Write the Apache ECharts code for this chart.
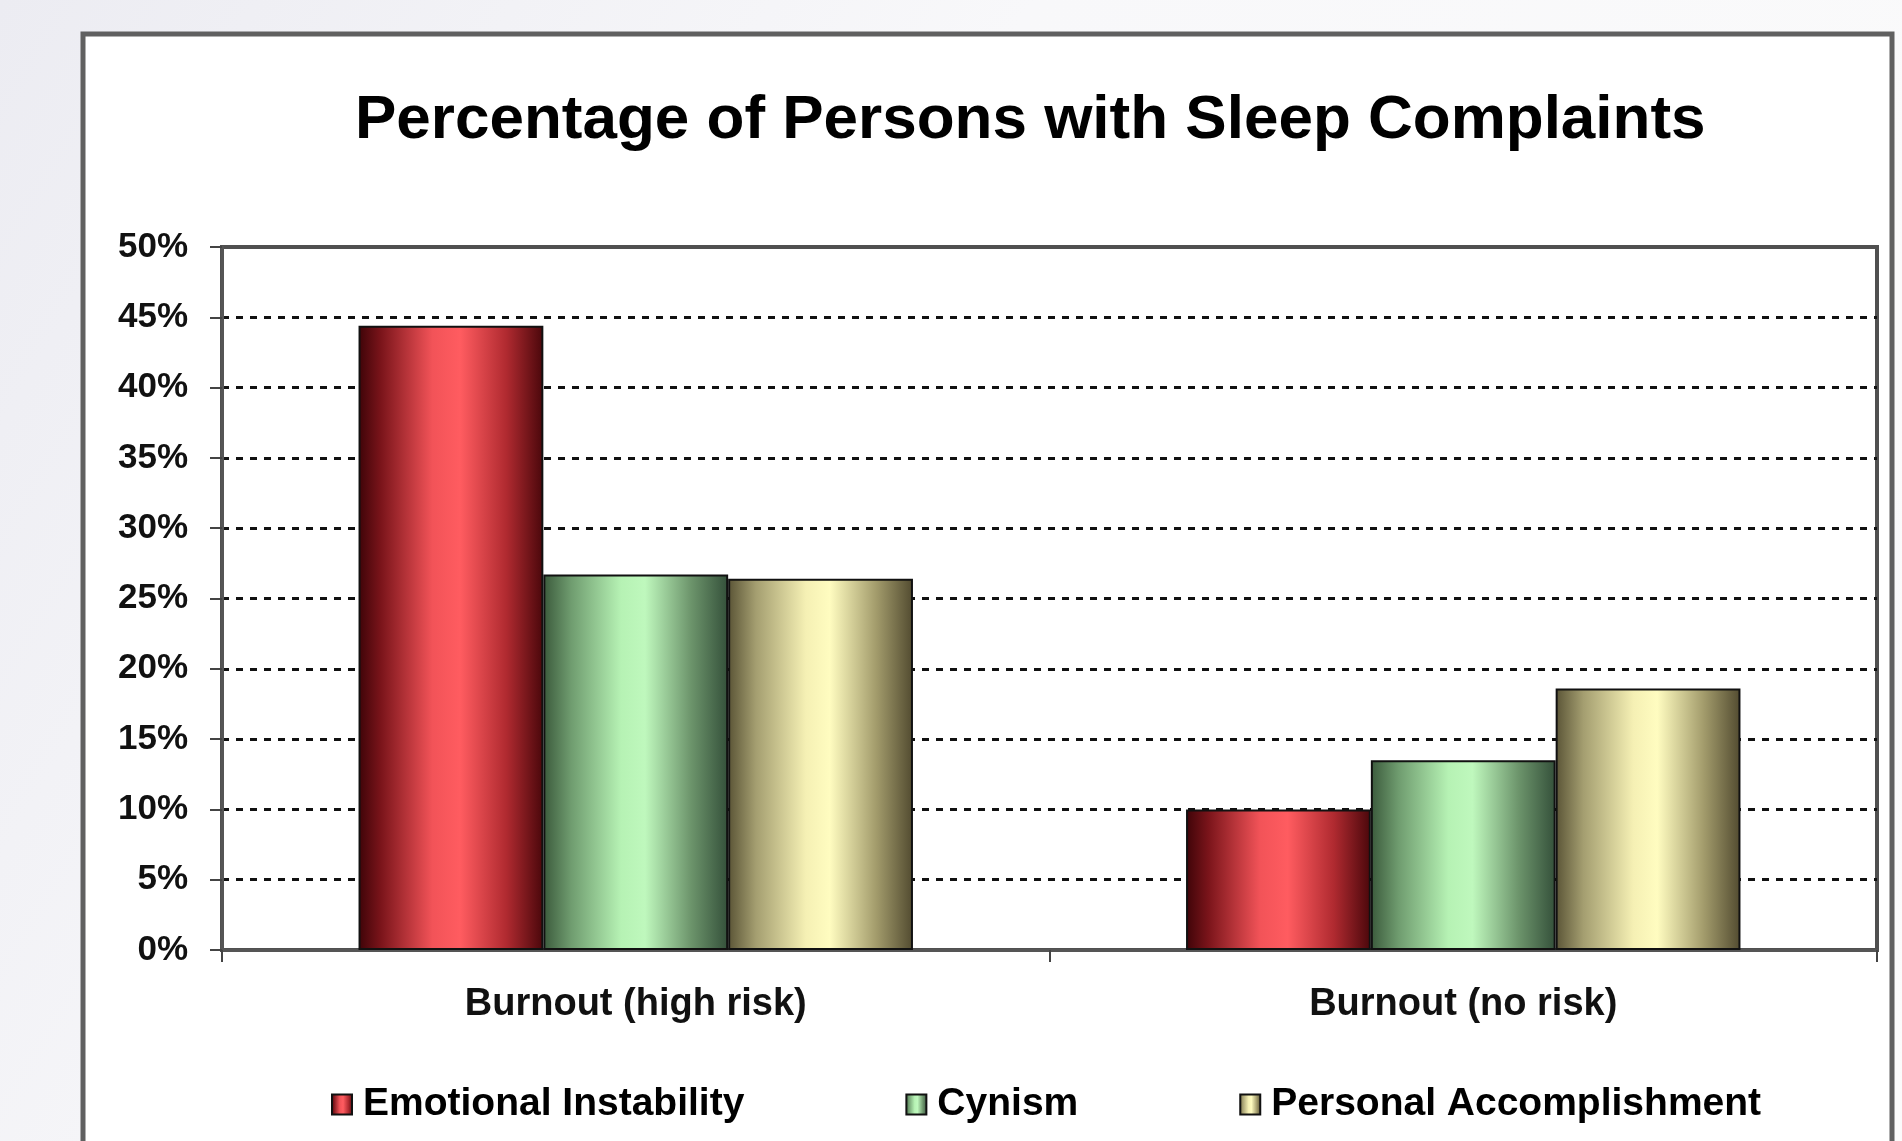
<!DOCTYPE html>
<html><head><meta charset="utf-8">
<script src="https://cdn.jsdelivr.net/npm/echarts@6/dist/echarts.min.js"></script>
<style>html,body{margin:0;padding:0;background:#f4f4f6}#c{width:1902px;height:1141px}</style>
</head><body><div id="c"></div>
<script>
const categories = ['Burnout (high risk)', 'Burnout (no risk)'];
const seriesNames = ['Emotional Instability', 'Cynism', 'Personal Accomplishment'];
const emotionalInstability = [44.4, 10.0];
const cynism = [26.7, 13.5];
const personalAccomplishment = [26.4, 18.6];
const titleText = 'Percentage of Persons with Sleep Complaints';

const FONT = '"Liberation Sans", Arial, sans-serif';
function grad(stops) {
  return { type: 'linear', x: 0, y: 0, x2: 1, y2: 0,
    colorStops: stops.map(s => ({ offset: s[0], color: s[1] })) };
}
const redFill = grad([[0,'#3e0408'],[0.12,'#7a141a'],[0.4,'#f25358'],[0.55,'#ff5c60'],[0.8,'#b02a30'],[1,'#4a070b']]);
const greenFill = grad([[0,'#3b5a3c'],[0.15,'#6f9c6f'],[0.42,'#b6f2b4'],[0.55,'#bff8bd'],[0.8,'#6c946b'],[1,'#34503a']]);
const yellowFill = grad([[0,'#5a5436'],[0.15,'#a49e70'],[0.42,'#f5f0b4'],[0.55,'#fffcc0'],[0.8,'#a39c6c'],[1,'#524b30']]);

const mk = (name, data, fill) => ({
  name, type: 'bar', data,
  barGap: '0%', barCategoryGap: '33%',
  itemStyle: { color: fill, borderColor: '#111', borderWidth: 2 }
});

const chart = echarts.init(document.getElementById('c'), null, { renderer: 'canvas' });
chart.setOption({
  animation: false,
  backgroundColor: { type: 'linear', x: 0, y: 0, x2: 1, y2: 1,
    colorStops: [{ offset: 0, color: '#ececf2' }, { offset: 0.4, color: '#f8f8fa' }, { offset: 1, color: '#fbfbfb' }] },
  graphic: [{
    type: 'rect', z: -10, silent: true,
    shape: { x: 83, y: 34, width: 1809, height: 1200 },
    style: { fill: '#ffffff', stroke: '#606060', lineWidth: 5 }
  }],
  title: {
    text: titleText, left: 350, top: 85,
    textStyle: { fontFamily: FONT, fontWeight: 'bold', fontSize: 62, color: '#000' }
  },
  legend: {
    data: seriesNames, left: 326, top: 1080, orient: 'horizontal', icon: 'rect',
    itemWidth: 20, itemHeight: 20, itemGap: 161,
    textStyle: { fontFamily: FONT, fontWeight: 'bold', fontSize: 39, color: '#000', padding: [0, 0, 0, 6] },
    itemStyle: { borderColor: '#111', borderWidth: 2 }
  },
  grid: {
    left: 222, top: 247, right: 25, bottom: 191, containLabel: false,
    show: true, borderColor: '#505050', borderWidth: 4, backgroundColor: 'transparent'
  },
  xAxis: {
    type: 'category', data: categories,
    axisLine: { show: true, lineStyle: { color: '#555', width: 3 } },
    axisTick: { show: true, length: 12, lineStyle: { color: '#444', width: 2 } },
    axisLabel: { margin: 36, fontFamily: FONT, fontWeight: 'bold', fontSize: 38, color: '#111' },
    splitLine: { show: false }
  },
  yAxis: {
    type: 'value', min: 0, max: 50, interval: 5,
    axisLine: { show: true, lineStyle: { color: '#555', width: 3 } },
    axisTick: { show: true, length: 12, lineStyle: { color: '#444', width: 2 } },
    axisLabel: { margin: 34, formatter: '{value}%', fontFamily: FONT, fontWeight: 'bold', fontSize: 35, color: '#111' },
    splitLine: { show: true, showMinLine: false, showMaxLine: false,
      lineStyle: { color: '#111', width: 3, type: [7, 7] } }
  },
  series: [
    mk(seriesNames[0], emotionalInstability, redFill),
    mk(seriesNames[1], cynism, greenFill),
    mk(seriesNames[2], personalAccomplishment, yellowFill)
  ]
});
</script>
</body></html>
